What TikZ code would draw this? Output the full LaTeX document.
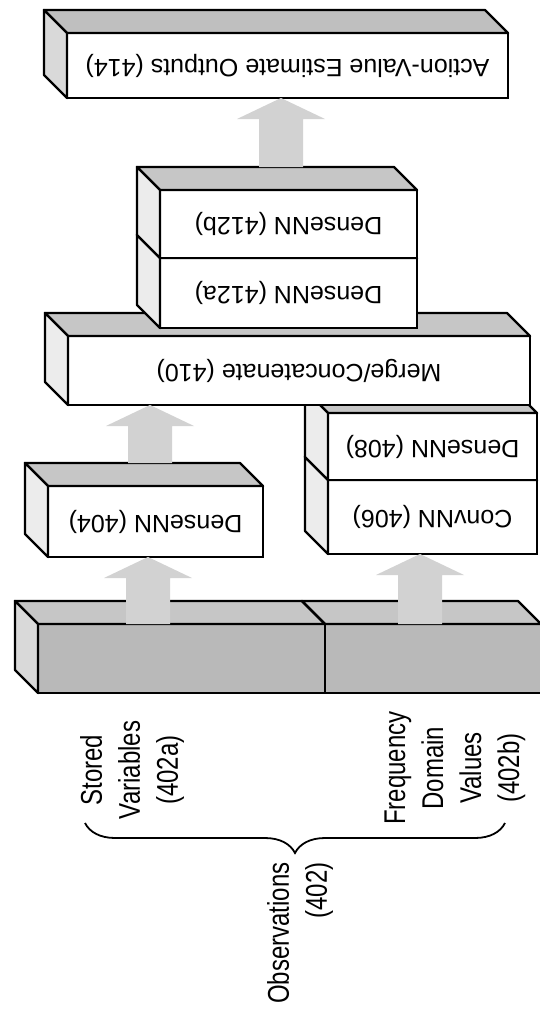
\documentclass[tikz,border=0pt]{standalone}
\usepackage{fontspec}
\usepackage{graphicx}
\usetikzlibrary{calc, positioning, decorations.pathreplacing}
\newfontfamily\boxfont{Liberation Sans}
\newfontfamily\labelfont[FakeStretch=0.8]{Liberation Sans}
\newcommand{\flipped}[1]{\rotatebox{180}{#1}}
% top and left faces of a box, drawn from its front node
\newcommand{\slabtop}[2]{\filldraw[face, fill=#2] (#1.north west) -- (#1.north east) -- ++(-23,-23) -- ($(#1.north west)+(-23,-23)$) -- cycle;}
\newcommand{\slabside}[2]{\filldraw[face, fill=#2] (#1.north west) -- (#1.south west) -- ++(-23,-23) -- ($(#1.north west)+(-23,-23)$) -- cycle;}
\newcommand{\slab}[3]{\slabtop{#1}{#2}\slabside{#1}{#3}}
% wide grey arrow from a foot point up to a tip point
\newcommand{\liftarrow}[2]{\fill[flow] ($(#1)+(-22,0)$) -- ($(#2)+(-22,21)$) -- ($(#2)+(-44,21)$) -- (#2) -- ($(#2)+(44,21)$) -- ($(#2)+(22,21)$) -- ($(#1)+(22,0)$) -- cycle;}

\begin{document}
\begin{tikzpicture}[x=0.5pt, y=-0.5pt,
  layer/.style={draw, line width=1.2pt, fill=white, inner sep=0pt, outer sep=0pt,
    font=\boxfont\fontsize{12.5}{15}\selectfont},
  bar/.style={layer, fill=gray!55},
  face/.style={draw, line width=1.2pt, line join=round},
  flow/.style={fill=gray!35},
  obslabel/.style={rotate=90, align=center, inner sep=0pt,
    font=\labelfont\fontsize{15}{19}\selectfont}
]
\path[use as bounding box, clip] (0,0) rectangle (540,1014);
\fill[white] (0,0) rectangle (540,1014);

% observations bar
\node[bar, minimum width=143.5pt, minimum height=34.5pt] (b402a) at (181.5,658.5) {};
\node[bar, minimum width=108pt, minimum height=34.5pt, right=0pt of b402a] (b402b) {};
\slab{b402a}{gray!45}{gray!30}
\slabtop{b402b}{gray!45}
\draw[face] (b402a.north east) -- ++(-23,-23);

\coordinate (foot1) at (148,0 |- b402a.north);
\coordinate (foot2) at (420,0 |- b402b.north);

% first layers
\node[layer, minimum width=107.5pt, minimum height=35.5pt] (b404) at (155.5,521.5) {\flipped{DenseNN (404)}};
\slab{b404}{gray!45}{gray!15}
\node[layer, minimum width=104.5pt, minimum height=37pt] (b406) at (432.5,517) {\flipped{ConvNN (406)}};
\slab{b406}{gray!45}{gray!15}
\node[layer, minimum width=104.5pt, minimum height=33.5pt, above=0pt of b406] (b408) {\flipped{DenseNN (408)}};
\slab{b408}{gray!45}{gray!15}

\coordinate (tip1) at (foot1 |- b404.south);
\coordinate (tip2) at (foot2 |- b406.south);
\liftarrow{foot1}{tip1}
\liftarrow{foot2}{tip2}

% merge
\node[layer, minimum width=231pt, minimum height=34.5pt] (b410) at (299,370.5) {\flipped{Merge/Concatenate (410)}};
\slab{b410}{gray!45}{gray!15}
\coordinate (foot3) at ($(150,0 |- b404.north)+(0,-23)$);
\coordinate (tip3) at (foot3 |- b410.south);
\liftarrow{foot3}{tip3}

% dense stack
\node[layer, minimum width=128.5pt, minimum height=35pt] (b412a) at (288.5,293) {\flipped{DenseNN (412a)}};
\slab{b412a}{gray!45}{gray!15}
\node[layer, minimum width=128.5pt, minimum height=34pt, above=0pt of b412a] (b412b) {\flipped{DenseNN (412b)}};
\slab{b412b}{gray!45}{gray!15}

% outputs
\node[layer, minimum width=220.5pt, minimum height=32.5pt] (b414) at (287.5,65.5) {\flipped{Action-Value Estimate Outputs (414)}};
\slab{b414}{gray!50}{gray!30}
\coordinate (foot4) at ($(281,0 |- b412b.north)+(0,-23)$);
\coordinate (tip4) at (foot4 |- b414.south);
\liftarrow{foot4}{tip4}

% labels
\node[obslabel] (stored) at (132,770) {Stored\\Variables\\(402a)};
\node[obslabel] (freq) at (455,768) {Frequency\\Domain\\Values\\(402b)};
\coordinate (braceR) at (505,823);
\coordinate (braceL) at (85,823);
\draw[line width=0.9pt, decorate, decoration={brace, amplitude=15pt}] (braceR) -- (braceL);
\node[obslabel, align=right] (obs) at (300,933) {Observations\\(402)};
\end{tikzpicture}
\end{document}
